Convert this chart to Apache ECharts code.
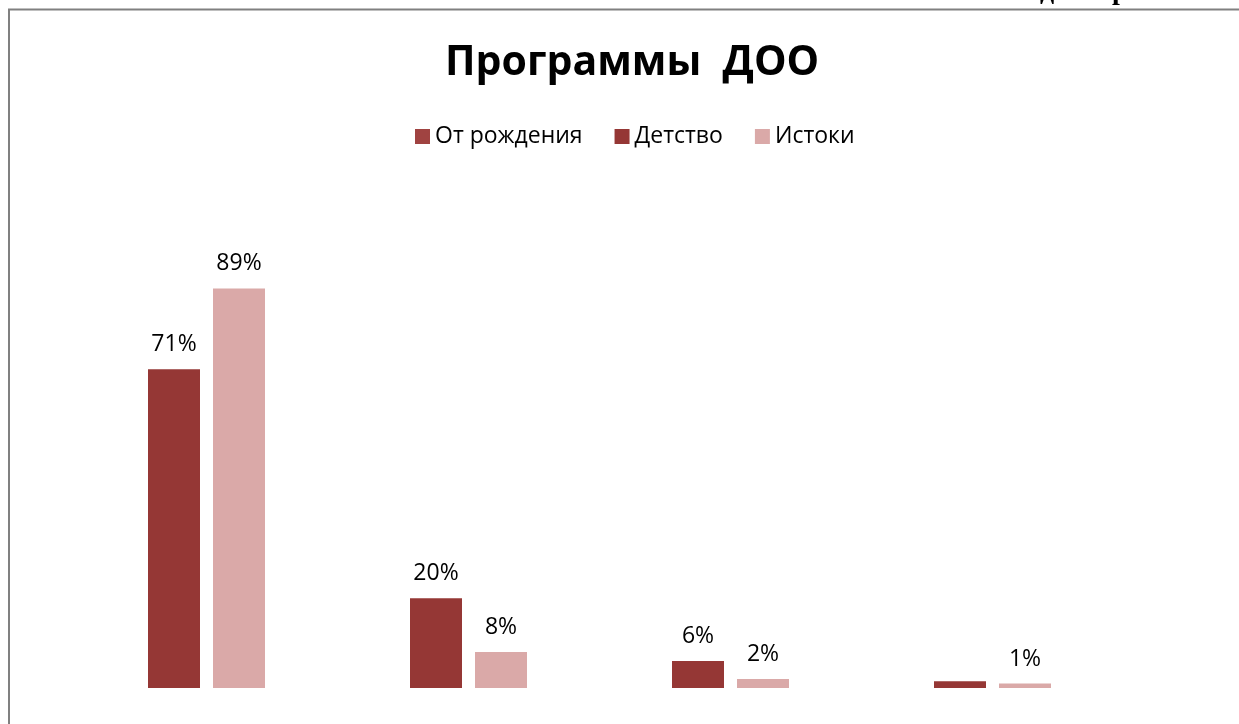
<!DOCTYPE html>
<html>
<head>
<meta charset="utf-8">
<script src="https://cdn.jsdelivr.net/npm/echarts@6/dist/echarts.min.js"></script>
<style>
html,body{margin:0;padding:0;background:#fff;}
#chart{width:1239px;height:724px;}
</style>
</head>
<body>
<div id="chart"></div>
<script>
const titleText = 'Программы  ДОО';
const categories = ['Группа 1', 'Группа 2', 'Группа 3', 'Группа 4'];
const legendNames = ['От рождения', 'Детство', 'Истоки'];
const seriesDark = [71, 20, 6, 1.5];
const seriesDarkLabelShown = [true, true, true, false];
const seriesPink = [89, 8, 2, 1];

const darkColor = '#953735';
const pinkColor = '#DAA9A8';

const chart = echarts.init(document.getElementById('chart'));
const labelStyle = {
  show: true,
  position: 'top',
  distance: 13,
  formatter: '{c}%',
  fontFamily: 'Open Sans',
  fontSize: 23,
  color: '#000'
};
chart.setOption({
  animation: false,
  title: {
    text: titleText,
    left: 440,
    top: 38,
    textStyle: { fontFamily: 'Open Sans', fontWeight: 'bold', fontSize: 41, color: '#000' }
  },
  legend: {
    data: [
      { name: legendNames[0], itemStyle: { color: '#A04341' } },
      { name: legendNames[1] },
      { name: legendNames[2] }
    ],
    top: 120,
    left: 410,
    icon: 'rect',
    itemWidth: 15,
    itemHeight: 15,
    itemGap: 32,
    textStyle: { fontFamily: 'Open Sans', fontSize: 23, color: '#000' }
  },
  grid: { left: 75.5, right: 115.5, top: 239, bottom: 36 },
  xAxis: {
    type: 'category',
    data: categories,
    axisLine: { show: false },
    axisTick: { show: false },
    axisLabel: { show: false }
  },
  yAxis: {
    type: 'value',
    min: 0,
    max: 100,
    show: false,
    splitLine: { show: false }
  },
  series: [
    {
      name: legendNames[0],
      type: 'bar',
      stack: 'd',
      barWidth: 52,
      barGap: '25%',
      itemStyle: { color: darkColor },
      label: labelStyle,
      data: seriesDark.map((v, i) => ({ value: v, label: { show: seriesDarkLabelShown[i] } }))
    },
    {
      name: legendNames[1],
      type: 'bar',
      stack: 'd',
      barWidth: 52,
      itemStyle: { color: darkColor },
      data: []
    },
    {
      name: legendNames[2],
      type: 'bar',
      barWidth: 52,
      barGap: '25%',
      itemStyle: { color: pinkColor },
      label: labelStyle,
      data: seriesPink
    }
  ],
  graphic: [
    { type: 'line', shape: { x1: 9, y1: 9, x2: 9, y2: 724 }, style: { stroke: '#808080', lineWidth: 2 } },
    { type: 'line', shape: { x1: 8, y1: 9.5, x2: 1239, y2: 9.5 }, style: { stroke: '#808080', lineWidth: 2 } },
    { type: 'text', left: 1040, top: -22, style: { text: 'д', font: 'bold 28px "Liberation Serif"', fill: '#000' } },
    { type: 'text', left: 1112, top: -22, style: { text: 'р', font: 'bold 28px "Liberation Serif"', fill: '#000' } }
  ]
});
</script>
</body>
</html>
